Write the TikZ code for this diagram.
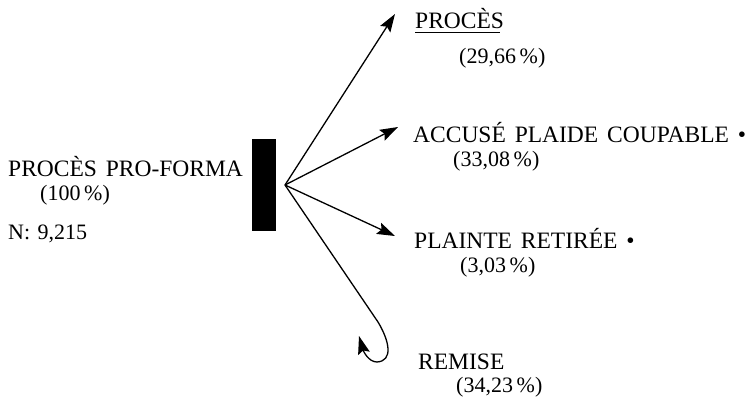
\documentclass[tikz,border=0pt]{standalone}
\usepackage{fontspec}
\setmainfont{Liberation Serif}
\usetikzlibrary{arrows.meta}
\begin{document}
\begin{tikzpicture}[x=1pt,y=-1pt,
  lbl/.style={anchor=base west,inner sep=0pt,font=\fontsize{23.5}{27}\selectfont},
  pct/.style={anchor=base west,inner sep=0pt,font=\fontsize{22}{25}\selectfont},
  branch/.style={line width=1.3pt,-{Stealth[length=18pt,width=12pt,inset=3pt]}}]
  \useasboundingbox (0,0) rectangle (755,400);

  % source block and origin of the branches
  \fill (252,139) rectangle (276,231);
  \coordinate (o) at (285,185);

  % left-hand labels
  \node[lbl] (src) at (8,176) {PROCÈS\hspace{3pt} PRO-FORMA};
  \node[pct] (srcp) at (40,200) {(100\,\%)};
  \node[pct] (n) at (8,239) {N:\hspace{2pt} 9,215};

  % branch targets
  \coordinate (t1) at (395,14);
  \coordinate (t2) at (398,127);
  \coordinate (t3) at (395,236);
  \coordinate (t4) at (359,336);

  \node[lbl] (proces) at (415,28) {PROCÈS};
  \draw[line width=0.9pt] (415,32.5) -- (500,32.5);
  \node[pct] (procesp) at (459,63) {(29,66\,\%)};

  \node[lbl] (accuse) at (413,142) {ACCUSÉ\hspace{3pt} PLAIDE\hspace{3pt} COUPABLE\hspace{3pt} •};
  \node[pct] (accusep) at (453,166) {(33,08\,\%)};

  \node[lbl] (plainte) at (414,248) {PLAINTE\hspace{3pt} RETIRÉE\hspace{3pt} •};
  \node[pct] (plaintep) at (460,272) {(3,03\,\%)};

  \node[lbl] (remise) at (418,369) {REMISE};
  \node[pct] (remisep) at (456,392) {(34,23\,\%)};

  % branches
  \draw[branch] (o) -- (t1);
  \draw[branch] (o) -- (t2);
  \draw[branch] (o) -- (t3);
  \draw[branch] (o) -- (378,322)
     .. controls (390,342) and (393,361) .. (377,362)
     .. controls (368,362) and (363,350) .. (t4);
\end{tikzpicture}
\end{document}
